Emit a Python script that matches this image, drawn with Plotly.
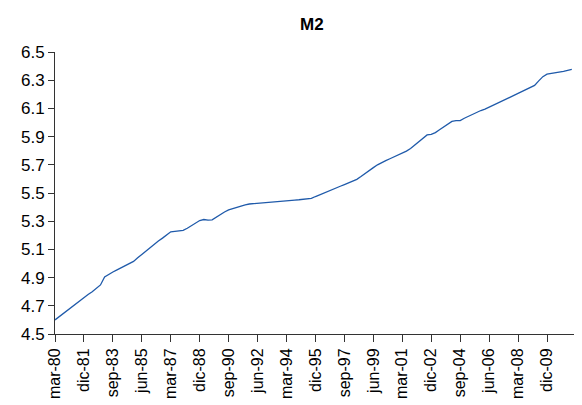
import plotly.graph_objects as go

# quarterly labels mar-80 .. jun-11
MONTHS = ["mar", "jun", "sep", "dic"]
YEARS = [f"{y % 100:02d}" for y in range(1980, 2012)]
QUARTERS = [f"{m}-{y}" for y in YEARS for m in MONTHS][:126]

# M2 (log) values, one per quarter
M2 = [
    4.60, 4.623, 4.645, 4.668, 4.69, 4.713, 4.735, 4.758, 4.78, 4.80,
    4.822, 4.848, 4.905, 4.925, 4.94, 4.955, 4.97, 4.985, 5.00, 5.015,
    5.04, 5.065, 5.09, 5.11, 5.135, 5.16, 5.18, 5.205, 5.225, 5.228,
    5.231, 5.235, 5.25, 5.27, 5.29, 5.305, 5.312, 5.308, 5.31, 5.33,
    5.35, 5.365, 5.38, 5.39, 5.40, 5.41, 5.416, 5.422, 5.425, 5.428,
    5.43, 5.432, 5.435, 5.437, 5.44, 5.442, 5.445, 5.447, 5.45, 5.452,
    5.455, 5.458, 5.462, 5.475, 5.488, 5.50, 5.512, 5.524, 5.536, 5.548,
    5.56, 5.572, 5.584, 5.597, 5.617, 5.64, 5.66, 5.68, 5.70, 5.718,
    5.73, 5.743, 5.756, 5.77, 5.783, 5.797, 5.815, 5.84, 5.865, 5.89,
    5.912, 5.916, 5.928, 5.948, 5.968, 5.988, 6.008, 6.013, 6.014, 6.03,
    6.045, 6.06, 6.074, 6.085, 6.095, 6.108, 6.122, 6.136, 6.15, 6.164,
    6.178, 6.192, 6.206, 6.22, 6.234, 6.248, 6.263, 6.295, 6.325, 6.343,
    6.347, 6.35, 6.354, 6.362, 6.369, 6.376,
]

TICK_STEP = 7
idx = list(range(len(M2)))
tickvals = idx[::TICK_STEP]
ticktext = [QUARTERS[i] for i in tickvals]

FONT = "Liberation Sans, Arial, sans-serif"
AXIS_COLOR = "#333333"

fig = go.Figure()
fig.add_trace(
    go.Scatter(
        x=idx,
        y=M2,
        mode="lines",
        line=dict(color="#1f5aaa", width=1.3),
        name="M2",
        showlegend=False,
    )
)

# page body has an 8px margin, so the figure is offset and its right edge
# runs off-screen (the axis in the reference also runs to the edge)
fig.update_layout(
    width=582,
    height=405,
    title=dict(
        text="<b>M2</b>",
        x=0.522,
        xanchor="center",
        y=1 - 16 / 405,
        yanchor="middle",
        font=dict(family=FONT, size=17, color="black"),
    ),
    margin=dict(l=47, r=0, t=44, b=79, autoexpand=False),
    xaxis=dict(
        range=[0, 129.4],
        tickvals=tickvals,
        ticktext=ticktext,
        tickangle=-90,
        ticks="outside",
        ticklen=7,
        tickcolor=AXIS_COLOR,
        showline=True,
        linecolor=AXIS_COLOR,
        linewidth=1,
        showgrid=False,
        zeroline=False,
        tickfont=dict(family=FONT, size=16, color="black"),
    ),
    yaxis=dict(
        range=[4.5, 6.5],
        tick0=4.5,
        dtick=0.2,
        tickformat=".1f",
        ticks="outside",
        ticklen=6,
        tickcolor=AXIS_COLOR,
        showline=True,
        linecolor=AXIS_COLOR,
        linewidth=1,
        showgrid=False,
        zeroline=False,
        tickfont=dict(family=FONT, size=17, color="black"),
    ),
    plot_bgcolor="white",
    paper_bgcolor="white",
)

fig.write_html("out.html")
